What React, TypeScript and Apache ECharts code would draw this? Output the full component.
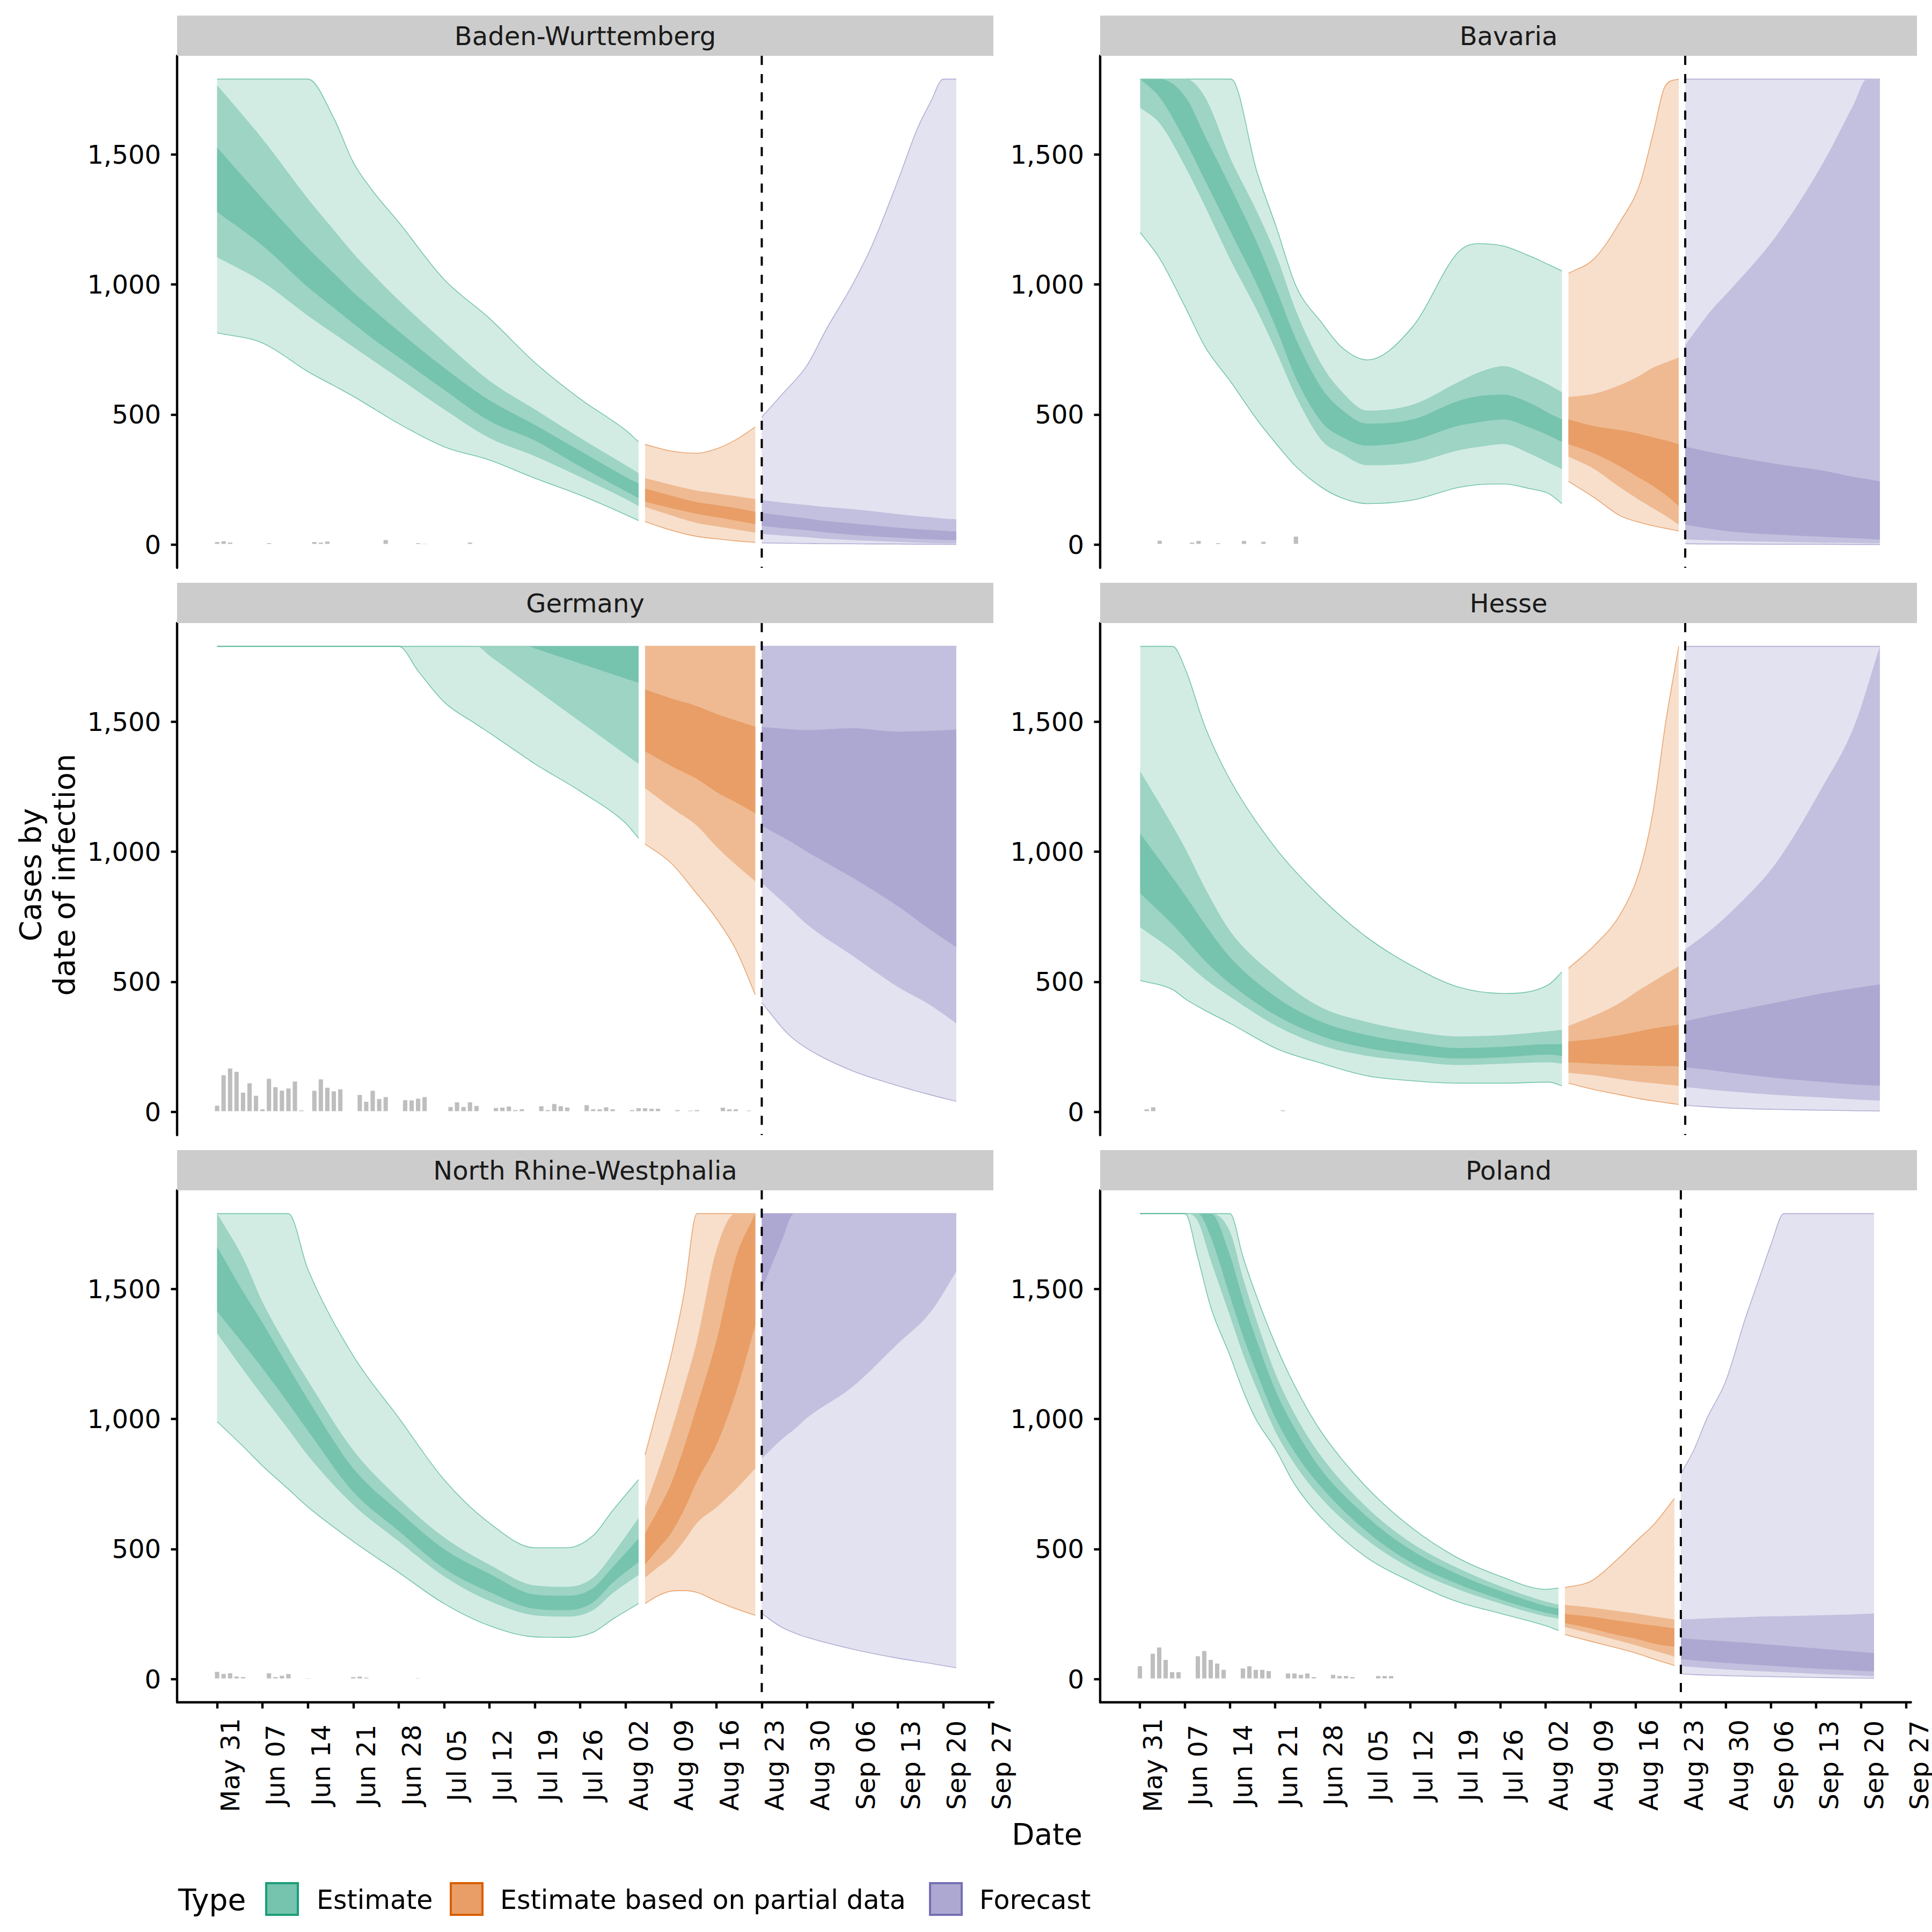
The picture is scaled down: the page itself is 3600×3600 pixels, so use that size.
import React, { useEffect, useRef } from 'react';
import * as echarts from 'echarts';

// ---------------- data ----------------
const TICK_LABELS = ['May 31', 'Jun 07', 'Jun 14', 'Jun 21', 'Jun 28', 'Jul 05', 'Jul 12', 'Jul 19', 'Jul 26', 'Aug 02', 'Aug 09', 'Aug 16', 'Aug 23', 'Aug 30', 'Sep 06', 'Sep 13', 'Sep 20', 'Sep 27'];
const TICK_DAYS = TICK_LABELS.map((_, i) => i * 7); // days since May 31
const Y_TICKS = [0, 500, 1000, 1500];
const FORECAST_DAY = 84; // Aug 23
const PANEL_NAMES = ['Baden-Wurttemberg', 'Bavaria', 'Germany', 'Hesse', 'North Rhine-Westphalia', 'Poland'];
const TYPE_NAMES = ['Estimate', 'Estimate based on partial data', 'Forecast'];

// rows: [day, lower90, lower50, lower20, upper20, upper50, upper90]
const BW_EST = [
  [0, 814, 1105, 1279, 1527, 1767, 1790], [7, 775, 1010, 1150, 1330, 1560, 1790], [14, 665, 880, 990, 1140, 1330, 1790],
  [18, 611, 811, 910, 1043, 1210, 1640], [21, 570, 760, 850, 970, 1120, 1470], [24, 525, 708, 792, 905, 1040, 1360],
  [28, 465, 640, 720, 820, 940, 1240], [35, 376, 520, 595, 680, 780, 1020], [42, 325, 410, 475, 555, 630, 870],
  [49, 255, 340, 400, 460, 520, 700], [56, 190, 260, 300, 360, 410, 560], [63, 115, 175, 205, 260, 305, 440],
  [65, 92, 148, 178, 235, 275, 395],
];
const BW_PART = [
  [66, 88, 145, 165, 215, 255, 385], [70, 55, 112, 140, 188, 230, 360], [74, 31, 83, 118, 163, 207, 351],
  [77, 22, 70, 105, 152, 197, 368], [80, 14, 58, 92, 140, 186, 403], [83, 8, 46, 78, 126, 175, 452],
];
const BW_FC = [
  [84, 6, 41, 72, 122, 171, 490], [87, 5, 35, 64, 112, 162, 574], [91, 4, 28, 55, 100, 152, 690],
  [94, 3, 22, 46, 90, 144, 830], [98, 3, 17, 37, 81, 136, 1000], [101, 2, 14, 32, 74, 128, 1150],
  [105, 2, 10, 26, 65, 117, 1400], [108, 1, 7, 22, 59, 109, 1600], [110, 1, 6, 20, 56, 105, 1700],
  [112, 1, 5, 18, 53, 100, 1790], [114, 0, 4, 17, 50, 97, 1790],
];

const BY_EST = [
  [0, 1200, 1680, 1790, 1790, 1790, 1790], [3, 1100, 1620, 1720, 1790, 1790, 1790], [7, 910, 1450, 1550, 1720, 1790, 1790],
  [10, 760, 1300, 1400, 1570, 1720, 1790], [14, 624, 1090, 1200, 1370, 1480, 1790], [18, 480, 900, 1000, 1160, 1280, 1433],
  [21, 386, 740, 830, 980, 1110, 1219], [24, 300, 570, 640, 790, 900, 995], [28, 219, 400, 470, 600, 690, 852],
  [31, 180, 350, 415, 520, 590, 760], [35, 157, 305, 380, 465, 515, 710], [42, 171, 314, 400, 481, 538, 838],
  [49, 219, 362, 457, 552, 624, 1124], [52, 230, 375, 470, 570, 660, 1157], [56, 233, 386, 481, 576, 686, 1148],
  [60, 215, 350, 450, 545, 650, 1110], [63, 195, 314, 419, 505, 614, 1076], [65, 157, 290, 395, 481, 586, 1052],
];
const BY_PART = [
  [66, 243, 338, 386, 481, 567, 1043], [70, 180, 290, 350, 455, 580, 1100], [74, 110, 219, 300, 440, 614, 1243],
  [77, 85, 170, 255, 425, 650, 1386], [79, 72, 140, 225, 412, 680, 1576], [81, 62, 110, 190, 400, 700, 1767],
  [83, 52, 76, 148, 386, 719, 1790],
];
const BY_FC = [
  [84, 3, 20, 76, 376, 767, 1790], [88, 2, 16, 60, 355, 900, 1790], [91, 2, 13, 50, 340, 981, 1790],
  [98, 1, 10, 38, 310, 1186, 1790], [105, 1, 7, 30, 285, 1457, 1790], [110, 0, 6, 24, 260, 1695, 1790],
  [112, 0, 5, 22, 252, 1790, 1790], [114, 0, 5, 19, 243, 1790, 1790],
];

const DE_EST = [
  [0, 1790, 1790, 1790, 1790, 1790, 1790], [14, 1790, 1790, 1790, 1790, 1790, 1790], [28, 1790, 1790, 1790, 1790, 1790, 1790],
  [31, 1695, 1790, 1790, 1790, 1790, 1790], [35, 1576, 1790, 1790, 1790, 1790, 1790], [40, 1490, 1790, 1790, 1790, 1790, 1790],
  [42, 1457, 1754, 1790, 1790, 1790, 1790], [48, 1355, 1645, 1790, 1790, 1790, 1790], [49, 1338, 1627, 1782, 1790, 1790, 1790],
  [56, 1233, 1500, 1724, 1790, 1790, 1790], [63, 1110, 1374, 1666, 1790, 1790, 1790], [65, 1052, 1338, 1650, 1790, 1790, 1790],
];
const DE_PART = [
  [66, 1030, 1245, 1386, 1624, 1790, 1790], [70, 957, 1170, 1330, 1590, 1790, 1790], [74, 838, 1100, 1280, 1560, 1790, 1790],
  [77, 743, 1020, 1230, 1530, 1790, 1790], [80, 624, 950, 1190, 1505, 1790, 1790], [83, 450, 886, 1148, 1481, 1790, 1790],
];
const DE_FC = [
  [84, 420, 880, 1100, 1480, 1790, 1790], [88, 300, 790, 1045, 1472, 1790, 1790], [91, 243, 720, 1000, 1468, 1790, 1790],
  [98, 157, 600, 900, 1475, 1790, 1790], [105, 100, 480, 790, 1462, 1790, 1790], [110, 65, 410, 700, 1465, 1790, 1790],
  [114, 40, 340, 633, 1470, 1790, 1790],
];

const HE_EST = [
  [0, 505, 710, 840, 1070, 1310, 1790], [5, 470, 620, 720, 900, 1100, 1790], [7, 433, 575, 665, 830, 1010, 1700],
  [10, 390, 510, 580, 720, 860, 1480], [14, 338, 440, 490, 590, 690, 1270], [21, 243, 330, 370, 440, 520, 1010],
  [28, 186, 255, 290, 345, 400, 820], [35, 138, 215, 245, 295, 345, 670], [42, 119, 195, 220, 265, 310, 560],
  [49, 110, 180, 205, 245, 290, 480], [56, 110, 185, 210, 250, 295, 455], [63, 114, 190, 220, 260, 310, 490],
  [65, 100, 185, 215, 260, 315, 538],
];
const HE_PART = [
  [66, 110, 150, 190, 270, 330, 552], [70, 85, 140, 185, 280, 370, 640], [74, 65, 125, 180, 295, 420, 760],
  [77, 50, 115, 178, 310, 470, 930], [79, 42, 110, 177, 320, 500, 1150], [81, 35, 105, 176, 328, 530, 1500],
  [83, 28, 100, 175, 335, 560, 1790],
];
const HE_FC = [
  [84, 25, 95, 171, 348, 624, 1790], [88, 18, 85, 160, 370, 700, 1790], [91, 14, 78, 150, 385, 767, 1790],
  [98, 9, 65, 130, 420, 957, 1790], [105, 6, 55, 115, 455, 1243, 1790], [110, 4, 48, 105, 475, 1481, 1790],
  [114, 3, 43, 100, 490, 1790, 1790],
];

const NRW_EST = [
  [0, 990, 1330, 1414, 1662, 1790, 1790], [4, 895, 1190, 1290, 1490, 1620, 1790], [7, 820, 1090, 1195, 1370, 1450, 1790],
  [11, 730, 960, 1060, 1200, 1270, 1790], [14, 662, 860, 955, 1075, 1148, 1576], [21, 529, 670, 720, 810, 880, 1243],
  [28, 410, 530, 570, 645, 695, 1005], [35, 290, 395, 425, 500, 545, 767], [42, 205, 300, 335, 405, 440, 600],
  [49, 162, 245, 270, 325, 360, 505], [54, 160, 240, 265, 320, 355, 505], [58, 180, 265, 295, 350, 390, 552],
  [61, 230, 330, 370, 430, 480, 648], [65, 290, 400, 450, 540, 620, 767],
];
const NRW_PART = [
  [66, 290, 390, 440, 560, 660, 862], [68, 320, 430, 500, 650, 800, 1050], [70, 338, 470, 560, 750, 950, 1243],
  [72, 340, 530, 650, 890, 1120, 1481], [74, 333, 600, 760, 1050, 1300, 1790], [77, 300, 660, 900, 1300, 1650, 1790],
  [80, 270, 730, 1100, 1620, 1790, 1790], [83, 245, 810, 1360, 1790, 1790, 1790],
];
const NRW_FC = [
  [84, 252, 848, 1500, 1790, 1790, 1790], [87, 200, 920, 1680, 1790, 1790, 1790], [89, 178, 960, 1790, 1790, 1790, 1790],
  [91, 160, 1005, 1790, 1790, 1790, 1790], [98, 115, 1124, 1790, 1790, 1790, 1790], [105, 80, 1290, 1790, 1790, 1790, 1790],
  [110, 60, 1410, 1790, 1790, 1790, 1790], [114, 43, 1567, 1790, 1790, 1790, 1790],
];

const PL_EST = [
  [0, 1790, 1790, 1790, 1790, 1790, 1790], [7, 1790, 1790, 1790, 1790, 1790, 1790], [9, 1620, 1760, 1790, 1790, 1790, 1790],
  [11, 1430, 1610, 1700, 1790, 1790, 1790], [14, 1243, 1395, 1472, 1628, 1720, 1790], [16, 1110, 1250, 1320, 1460, 1543, 1624],
  [18, 1000, 1125, 1188, 1312, 1388, 1480], [21, 886, 954, 1007, 1113, 1177, 1290], [24, 750, 828, 874, 966, 1021, 1130],
  [28, 624, 700, 743, 810, 862, 957], [35, 471, 540, 572, 630, 666, 743], [42, 376, 427, 450, 498, 526, 586],
  [49, 300, 349, 369, 407, 431, 471], [56, 252, 290, 306, 338, 357, 395], [63, 205, 241, 255, 281, 298, 345],
  [65, 186, 232, 245, 271, 286, 350],
];
const PL_PART = [
  [66, 171, 200, 215, 250, 285, 352], [70, 145, 175, 195, 240, 275, 376], [74, 120, 150, 170, 225, 262, 457],
  [77, 100, 130, 155, 215, 252, 529], [80, 75, 108, 135, 205, 240, 600], [83, 52, 86, 124, 195, 229, 695],
];
const PL_FC = [
  [84, 20, 50, 76, 157, 229, 790], [86, 17, 46, 72, 153, 231, 880], [88, 15, 42, 68, 150, 233, 1000],
  [91, 13, 37, 62, 145, 236, 1148], [94, 11, 33, 57, 140, 238, 1386], [96, 10, 30, 54, 136, 240, 1529],
  [98, 9, 28, 51, 132, 241, 1671], [100, 8, 26, 48, 128, 242, 1790], [105, 6, 20, 40, 118, 245, 1790],
  [110, 4, 15, 34, 108, 248, 1790], [114, 3, 10, 29, 100, 252, 1790],
];

// reported cases, one value per day from May 31 (day 0) to Aug 21 (day 82)
const BW_BARS = [
  12, 15, 10, 3, 0, 0, 0, 0, 8, 5, 4, 5, 2, 0, 0, 12, 10, 14, 4, 3, 0, 0, 3, 4, 5, 0, 20, 0,
  0, 0, 0, 8, 6, 0, 0, 0, 0, 0, 0, 10, 0, 0, 0, 0, 0, 0, 0, 0, 0, 0, 0, 0, 0, 3, 0, 0,
  0, 0, 0, 0, 0, 0, 0, 0, 0, 3, 0, 0, 0, 0, 0, 0, 0, 0, 0, 0, 0, 0, 0, 0, 0, 0, 0,
];
const BY_BARS = [
  0, 2, 2, 17, 0, 2, 0, 0, 10, 16, 0, 0, 8, 0, 0, 3, 16, 4, 4, 13, 0, 0, 4, 0, 33, 0, 0, 0,
  0, 0, 0, 0, 0, 0, 0, 0, 0, 0, 0, 0, 0, 0, 0, 0, 0, 0, 0, 0, 0, 0, 0, 0, 0, 0, 0, 0,
  0, 0, 0, 0, 0, 0, 0, 0, 0, 0, 0, 0, 0, 0, 0, 0, 0, 0, 0, 0, 0, 0, 0, 0, 0, 0, 0,
];
const DE_BARS = [
  26, 143, 169, 156, 76, 112, 64, 12, 129, 97, 84, 92, 119, 8, 2, 83, 127, 95, 81, 89, 5,
  2, 67, 41, 83, 52, 59, 0, 0, 47, 46, 53, 59, 5, 0, 0, 21, 39, 21, 39, 25, 0,
  0, 17, 19, 23, 9, 12, 0, 0, 24, 9, 32, 24, 19, 0, 0, 28, 12, 12, 20, 12, 0,
  0, 9, 16, 16, 14, 14, 0, 0, 9, 5, 7, 9, 1, 0, 0, 18, 12, 12, 4, 7,
];
const HE_BARS = [
  5, 12, 20, 3, 0, 0, 0, 0, 0, 0, 0, 0, 3, 0, 0, 0, 0, 3, 0, 0, 0, 0, 8, 0, 0, 0, 0, 0,
  0, 0, 0, 0, 4, 0, 0, 0, 0, 0, 0, 0, 0, 0, 0, 0, 0, 0, 0, 0, 0, 0, 0, 0, 0, 0, 0, 0,
  0, 0, 0, 0, 0, 0, 0, 0, 0, 0, 0, 0, 0, 0, 0, 0, 0, 0, 0, 0, 0, 0, 0, 0, 0, 0, 0,
];
const NRW_BARS = [
  30, 22, 25, 12, 10, 0, 0, 3, 25, 10, 15, 22, 0, 0, 6, 5, 5, 4, 0, 0, 0, 10, 12, 8, 0, 0, 0, 0,
  0, 5, 5, 6, 0, 0, 0, 0, 0, 0, 3, 0, 0, 0, 0, 0, 0, 2, 0, 0, 0, 2, 0, 0, 0, 0, 0, 0,
  0, 0, 0, 0, 0, 0, 0, 0, 0, 0, 0, 0, 0, 0, 0, 0, 0, 0, 0, 4, 0, 0, 0, 0, 0, 0,
];
const PL_BARS = [
  52, 0, 100, 124, 76, 29, 29, 5, 0, 90, 110, 76, 62, 38, 0, 0, 43, 52, 38, 38, 33,
  0, 0, 24, 24, 19, 24, 10, 0, 0, 19, 14, 14, 10, 0, 0, 0, 14, 14, 14, 0, 0,
  0, 0, 0, 5, 5, 5, 0, 0, 0, 0, 0, 0, 0, 0, 0, 0, 0, 0, 0, 0, 0, 0, 0, 0, 0,
  0, 0, 0, 0, 0, 0, 0, 0, 0, 0, 0, 0, 0, 0, 0, 0, 0, 0, 0, 0, 0,
];

// ---------------- style / layout ----------------
const FONT = 'DejaVu Sans';
const TYPE_COLORS = ['#1B9E77', '#D95F02', '#7570B3'];
const EDGE_COLORS = ['rgba(27,158,119,0.55)', 'rgba(217,95,2,0.5)', 'rgba(117,112,179,0.5)'];
const BAND_FILLS = [
  ['#D2ECE4', '#9DD4C4', '#76C3AE'],
  ['#F7DFCC', '#EFBA92', '#E89E66'],
  ['#E3E2F0', '#C2C0DE', '#ACA8D1'],
];
const BAND_COLS = [[1, 6], [2, 5], [3, 4]];
const COL_X = [330, 2050];
const COL_W = [1521, 1522];
const ROW_Y = [104, 1161, 2218];
const PANEL_H = 954;
const STRIP_H = 75;
const X_MIN = -6.17;
const X_MAX = 119.72;
const Y_MIN = -89.5;
const Y_MAX = 1879.5;
const AXIS_LW = 4.4;

const f = (v: number) => v.toFixed(2);

function slopes(p: number[][]) {
  const n = p.length;
  const m = new Array(n).fill(0);
  if (n < 2) return m;
  const s: number[] = [];
  for (let i = 0; i < n - 1; i++) {
    const dx = p[i + 1][0] - p[i][0];
    s.push(dx === 0 ? 0 : (p[i + 1][1] - p[i][1]) / dx);
  }
  m[0] = s[0];
  m[n - 1] = s[n - 2];
  for (let i = 1; i < n - 1; i++) m[i] = s[i - 1] * s[i] <= 0 ? 0 : (s[i - 1] + s[i]) / 2;
  for (let i = 0; i < n - 1; i++) {
    if (s[i] === 0) { m[i] = 0; m[i + 1] = 0; continue; }
    const a = m[i] / s[i];
    const b = m[i + 1] / s[i];
    const h = a * a + b * b;
    if (h > 9) { const t = 3 / Math.sqrt(h); m[i] = t * a * s[i]; m[i + 1] = t * b * s[i]; }
  }
  return m;
}
function segs(p: number[][]) {
  const m = slopes(p);
  const out: number[][] = [];
  for (let i = 0; i < p.length - 1; i++) {
    const dx = p[i + 1][0] - p[i][0];
    out.push([p[i][0] + dx / 3, p[i][1] + (m[i] * dx) / 3, p[i + 1][0] - dx / 3, p[i + 1][1] - (m[i + 1] * dx) / 3]);
  }
  return out;
}
function curvePath(p: number[][]) {
  const sg = segs(p);
  let d = `M ${f(p[0][0])} ${f(p[0][1])}`;
  sg.forEach((c, i) => {
    d += ` C ${f(c[0])} ${f(c[1])} ${f(c[2])} ${f(c[3])} ${f(p[i + 1][0])} ${f(p[i + 1][1])}`;
  });
  return d;
}
function ribbonPath(up: number[][], dn: number[][]) {
  let d = curvePath(up);
  const n = dn.length;
  d += ` L ${f(dn[n - 1][0])} ${f(dn[n - 1][1])}`;
  const sg = segs(dn);
  for (let i = n - 2; i >= 0; i--) {
    const c = sg[i];
    d += ` C ${f(c[2])} ${f(c[3])} ${f(c[0])} ${f(c[1])} ${f(dn[i][0])} ${f(dn[i][1])}`;
  }
  return d + ' Z';
}

function ribbonSeries(gi: number, rows: number[][], t: number, b: number) {
  const [lo, hi] = BAND_COLS[b];
  return {
    type: 'custom',
    xAxisIndex: gi,
    yAxisIndex: gi,
    z: 2,
    silent: true,
    data: rows,
    encode: { x: 0, y: [lo, hi] },
    renderItem: (params: any, api: any) => {
      if (params.dataIndex !== 0) return null;
      const up = rows.map((r) => api.coord([r[0], r[hi]]));
      const dn = rows.map((r) => api.coord([r[0], r[lo]]));
      const children: any[] = [
        { type: 'path', shape: { pathData: ribbonPath(up, dn) }, style: { fill: BAND_FILLS[t][b], stroke: 'none' } },
      ];
      if (b === 0) {
        children.push({ type: 'path', shape: { pathData: curvePath(up) }, style: { fill: 'none', stroke: EDGE_COLORS[t], lineWidth: 1.6 } });
        children.push({ type: 'path', shape: { pathData: curvePath(dn) }, style: { fill: 'none', stroke: EDGE_COLORS[t], lineWidth: 1.6 } });
      }
      return { type: 'group', children };
    },
  };
}

function buildOption() {
  const panels = [
    { est: BW_EST, part: BW_PART, fc: BW_FC, bars: BW_BARS },
    { est: BY_EST, part: BY_PART, fc: BY_FC, bars: BY_BARS },
    { est: DE_EST, part: DE_PART, fc: DE_FC, bars: DE_BARS },
    { est: HE_EST, part: HE_PART, fc: HE_FC, bars: HE_BARS },
    { est: NRW_EST, part: NRW_PART, fc: NRW_FC, bars: NRW_BARS },
    { est: PL_EST, part: PL_PART, fc: PL_FC, bars: PL_BARS },
  ];
  const grid: any[] = [];
  const xAxis: any[] = [];
  const yAxis: any[] = [];
  const series: any[] = [];
  const graphic: any[] = [];
  const axisLine = { color: '#000', width: AXIS_LW };

  panels.forEach((p, i) => {
    const col = i % 2;
    const row = Math.floor(i / 2);
    const bottom = row === 2;
    grid.push({ left: COL_X[col], top: ROW_Y[row], width: COL_W[col], height: PANEL_H });
    xAxis.push({
      gridIndex: i, type: 'value', min: X_MIN, max: X_MAX,
      splitLine: { show: false },
      axisLine: { show: bottom, onZero: false, lineStyle: axisLine },
      axisTick: { show: bottom, length: 11.5, lineStyle: axisLine, customValues: TICK_DAYS },
      axisLabel: {
        show: bottom, customValues: TICK_DAYS, rotate: 90, align: 'center', verticalAlign: 'top', margin: 117,
        fontSize: 48, fontFamily: FONT, color: '#000',
        formatter: (v: number) => TICK_LABELS[Math.round(v / 7)] ?? '',
      },
    });
    yAxis.push({
      gridIndex: i, type: 'value', min: Y_MIN, max: Y_MAX,
      splitLine: { show: false },
      axisLine: { show: true, onZero: false, lineStyle: axisLine },
      axisTick: { show: true, length: 11.5, lineStyle: axisLine, customValues: Y_TICKS },
      axisLabel: {
        customValues: Y_TICKS, margin: 30, fontSize: 48, fontFamily: FONT, color: '#000',
        formatter: (v: number) => Number(v).toLocaleString('en-US'),
      },
    });
    series.push({
      type: 'bar', xAxisIndex: i, yAxisIndex: i, z: 1, silent: true, barWidth: 10.5,
      data: p.bars.map((v, d) => [d, v]),
      itemStyle: { color: '#BEBEBE', borderColor: '#FFFFFF', borderWidth: 1.2 },
    });
    [p.est, p.part, p.fc].forEach((rows, t) => {
      for (let b = 0; b < 3; b++) series.push(ribbonSeries(i, rows, t, b));
    });
    series.push({
      type: 'custom', xAxisIndex: i, yAxisIndex: i, z: 5, silent: true,
      data: [[FORECAST_DAY, 0]], encode: { x: 0, y: 1 },
      renderItem: (params: any, api: any) => {
        const pt = api.coord([api.value(0), 0]);
        const cs = params.coordSys;
        return {
          type: 'line',
          shape: { x1: pt[0], y1: cs.y, x2: pt[0], y2: cs.y + cs.height },
          style: { stroke: '#000', lineWidth: 4, lineDash: [17, 17] },
        };
      },
    });
    // strip
    graphic.push({
      type: 'rect', z: 10,
      shape: { x: COL_X[col], y: ROW_Y[row] - STRIP_H, width: COL_W[col], height: STRIP_H },
      style: { fill: '#CCCCCC' },
    });
    graphic.push({
      type: 'text', z: 11, x: COL_X[col] + COL_W[col] / 2, y: ROW_Y[row] - STRIP_H / 2,
      style: {
        text: PANEL_NAMES[i], fontSize: 48, fontFamily: FONT, fill: '#1A1A1A',
        align: 'center', verticalAlign: 'middle', textAlign: 'center', textVerticalAlign: 'middle',
      },
    });
  });

  // axis titles
  graphic.push({
    type: 'text', z: 11, x: 88, y: 1630, rotation: Math.PI / 2,
    style: {
      text: 'Cases by\ndate of infection', fontSize: 55, lineHeight: 63, fontFamily: FONT, fill: '#000',
      align: 'center', verticalAlign: 'middle', textAlign: 'center', textVerticalAlign: 'middle',
    },
  });
  graphic.push({
    type: 'text', z: 11, x: 1951, y: 3418,
    style: {
      text: 'Date', fontSize: 55, fontFamily: FONT, fill: '#000',
      align: 'center', verticalAlign: 'middle', textAlign: 'center', textVerticalAlign: 'middle',
    },
  });

  // legend
  const LEG_Y = 3540;
  graphic.push({
    type: 'text', z: 11, x: 332, y: LEG_Y,
    style: { text: 'Type', fontSize: 55, fontFamily: FONT, fill: '#000', align: 'left', verticalAlign: 'middle', textAlign: 'left', textVerticalAlign: 'middle' },
  });
  const keyX = [494, 838, 1731];
  const labX = [590, 932, 1825];
  TYPE_NAMES.forEach((name, t) => {
    graphic.push({
      type: 'rect', z: 11,
      shape: { x: keyX[t] + 2, y: 3509, width: 59, height: 59 },
      style: { fill: BAND_FILLS[t][2], stroke: TYPE_COLORS[t], lineWidth: 4 },
    });
    graphic.push({
      type: 'text', z: 11, x: labX[t], y: LEG_Y,
      style: { text: name, fontSize: 49, fontFamily: FONT, fill: '#000', align: 'left', verticalAlign: 'middle', textAlign: 'left', textVerticalAlign: 'middle' },
    });
  });

  return {
    animation: false,
    backgroundColor: '#FFFFFF',
    textStyle: { fontFamily: FONT },
    grid, xAxis, yAxis, series, graphic,
  };
}

export default function App() {
  const ref = useRef<HTMLDivElement>(null);
  useEffect(() => {
    const chart = echarts.init(ref.current as HTMLDivElement, null, { renderer: 'svg', width: 3600, height: 3600 });
    chart.setOption(buildOption() as any);
    return () => chart.dispose();
  }, []);
  return (
    <div
      ref={ref}
      style={{ position: 'absolute', left: 0, top: 0, width: 3600, height: 3600, background: '#fff' }}
    />
  );
}
